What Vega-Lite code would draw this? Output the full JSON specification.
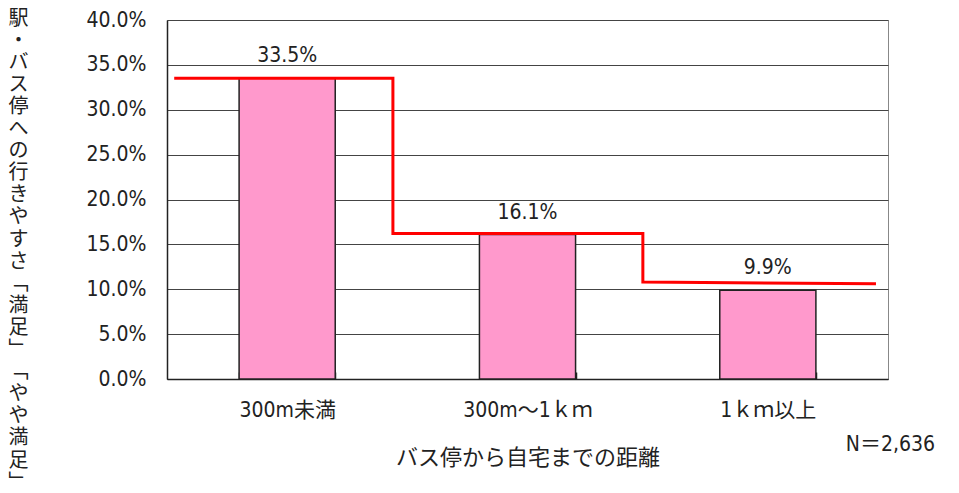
{
  "$schema": "https://vega.github.io/schema/vega-lite/v6.json",
  "width": 721,
  "height": 359,
  "autosize": {"type": "none"},
  "padding": {"left": 167, "top": 20, "right": 71, "bottom": 114},
  "background": "white",
  "config": {"view": {"stroke": "#888", "strokeWidth": 1}, "font": "DejaVu Sans Condensed, Liberation Sans"},
  "title": {"text": "N＝2,636", "orient": "bottom", "anchor": "end", "font": "DejaVu Sans Condensed, Liberation Sans, Noto Sans CJK JP", "fontSize": 21, "fontWeight": "normal", "color": "#222", "dx": 47, "dy": -62},
  "datasets": {
    "bars": [
      {"距離": "300m未満", "割合": 0.335},
      {"距離": "300m～1ｋｍ", "割合": 0.161},
      {"距離": "1ｋｍ以上", "割合": 0.099}
    ],
    "step": [
      {"i": 0, "x": 0.03, "y": 0.335},
      {"i": 1, "x": 0.94, "y": 0.335},
      {"i": 2, "x": 0.94, "y": 0.162},
      {"i": 3, "x": 1.98, "y": 0.162},
      {"i": 4, "x": 1.98, "y": 0.108},
      {"i": 5, "x": 2.95, "y": 0.106}
    ]
  },
  "layer": [
    {
      "data": {"name": "bars"},
      "mark": {"type": "bar", "fill": "#FF99CC", "stroke": "#222", "strokeWidth": 1.5},
      "encoding": {
        "x": {
          "field": "距離", "type": "nominal", "sort": null,
          "scale": {"paddingInner": 0.6, "paddingOuter": 0.3},
          "axis": {
            "title": "バス停から自宅までの距離",
            "titleFont": "Noto Sans CJK JP", "titleFontSize": 22, "titleFontWeight": "normal", "titleColor": "#222",
            "titlePadding": 27,
            "labelAngle": 0, "labelFont": "DejaVu Sans Condensed, Liberation Sans, Noto Sans CJK JP", "labelFontSize": 21, "labelColor": "#222",
            "labelPadding": 27,
            "tickBand": "extent", "tickSize": -7, "tickColor": "#222", "tickWidth": 1.5,
            "domainColor": "#222", "domainWidth": 1.5, "grid": false
          }
        },
        "y": {
          "field": "割合", "type": "quantitative",
          "scale": {"domain": [0, 0.4]},
          "axis": {
            "values": [0, 0.05, 0.1, 0.15, 0.2, 0.25, 0.3, 0.35, 0.4],
            "format": ".1%", "grid": true, "gridColor": "#444", "gridWidth": 1,
            "ticks": false, "domainColor": "#222", "domainWidth": 1.5,
            "labelFont": "DejaVu Sans Condensed, Liberation Sans", "labelFontSize": 21, "labelColor": "#222", "labelPadding": 21,
            "title": ["駅", "・", "バ", "ス", "停", "へ", "の", "行", "き", "や", "す", "さ", "﹁", "満", "足", "﹂", "﹁", "や", "や", "満", "足", "﹂"],
            "titleAngle": 0, "titleFont": "Noto Sans CJK JP", "titleFontSize": 20, "titleFontWeight": "normal", "titleColor": "#222",
            "titleLineHeight": 22.1, "titleX": -149, "titleY": -12, "titleAlign": "center", "titleBaseline": "top"
          }
        }
      }
    },
    {
      "data": {"name": "bars"},
      "mark": {"type": "text", "baseline": "bottom", "dy": -12, "fontSize": 21, "font": "DejaVu Sans Condensed, Liberation Sans", "color": "#222"},
      "encoding": {
        "x": {"field": "距離", "type": "nominal", "sort": null, "axis": null},
        "y": {"field": "割合", "type": "quantitative"},
        "text": {"field": "割合", "type": "quantitative", "format": ".1%"}
      }
    },
    {
      "data": {"name": "step"},
      "mark": {"type": "line", "color": "#FF0000", "strokeWidth": 3},
      "encoding": {
        "x": {"field": "x", "type": "quantitative", "scale": {"domain": [0, 3]}, "axis": null},
        "y": {"field": "y", "type": "quantitative"},
        "order": {"field": "i", "type": "quantitative"}
      }
    }
  ],
  "resolve": {"scale": {"x": "independent"}}
}
